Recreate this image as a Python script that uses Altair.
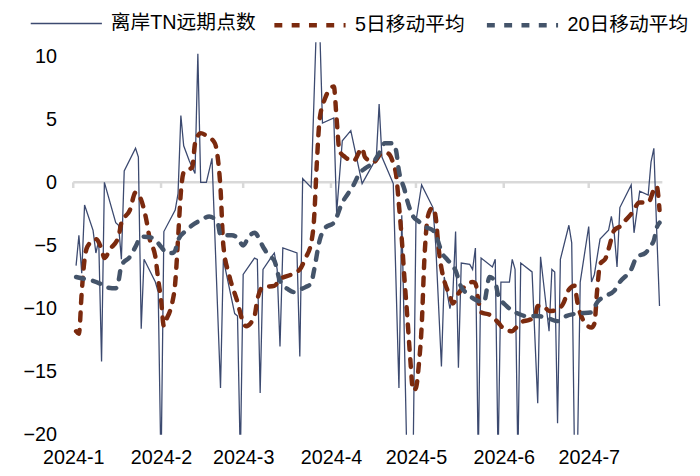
import altair as alt
import pandas as pd

RAW = "离岸TN远期点数"
MA5 = "5日移动平均"
MA20 = "20日移动平均"

raw_dates = [
    "2024-01-02", "2024-01-03", "2024-01-04", "2024-01-05", "2024-01-08", "2024-01-09",
    "2024-01-10", "2024-01-11", "2024-01-12", "2024-01-16", "2024-01-17", "2024-01-18",
    "2024-01-19", "2024-01-23", "2024-01-24", "2024-01-25", "2024-01-26", "2024-01-30",
    "2024-01-31", "2024-02-01", "2024-02-02", "2024-02-06", "2024-02-07", "2024-02-08",
    "2024-02-09", "2024-02-11", "2024-02-13", "2024-02-14", "2024-02-15", "2024-02-17",
    "2024-02-19", "2024-02-22", "2024-02-23", "2024-02-27", "2024-02-28", "2024-02-29",
    "2024-03-01", "2024-03-05", "2024-03-06", "2024-03-07", "2024-03-08", "2024-03-11",
    "2024-03-12", "2024-03-13", "2024-03-14", "2024-03-15", "2024-03-20", "2024-03-21",
    "2024-03-22", "2024-03-25", "2024-03-27", "2024-03-28", "2024-03-29", "2024-04-02",
    "2024-04-03", "2024-04-05", "2024-04-08", "2024-04-10", "2024-04-12", "2024-04-17",
    "2024-04-18", "2024-04-19", "2024-04-23", "2024-04-25", "2024-04-26", "2024-04-28",
    "2024-04-29", "2024-04-30", "2024-05-01", "2024-05-03", "2024-05-07", "2024-05-08",
    "2024-05-10", "2024-05-11", "2024-05-13", "2024-05-14", "2024-05-15", "2024-05-16",
    "2024-05-17", "2024-05-20", "2024-05-21", "2024-05-22", "2024-05-23", "2024-05-24",
    "2024-05-28", "2024-05-29", "2024-05-30", "2024-05-31", "2024-06-03", "2024-06-04",
    "2024-06-05", "2024-06-06", "2024-06-07", "2024-06-11", "2024-06-13", "2024-06-14",
    "2024-06-17", "2024-06-18", "2024-06-19", "2024-06-20", "2024-06-21", "2024-06-24",
    "2024-06-25", "2024-06-26", "2024-06-27", "2024-06-28", "2024-07-01", "2024-07-02",
    "2024-07-03", "2024-07-05", "2024-07-08", "2024-07-09", "2024-07-10", "2024-07-11",
    "2024-07-12", "2024-07-16", "2024-07-17", "2024-07-19", "2024-07-22", "2024-07-23",
    "2024-07-24", "2024-07-25", "2024-07-26",
]
raw_values = [
    -6.6, -4.2, -7.2, -1.8, -3.8, -5.6,
    -4.6, -14.2, 0.0, -3.2, -3.4, -6.1,
    0.9, 2.7, 2.0, -11.6, -6.1, -7.9,
    -8.7, -23.0, -3.9, -2.2, -0.9, 5.3,
    2.9, 1.7, 0.7, 10.2, 0.0, 0.0,
    1.9, -16.3, -6.1, -10.4, -10.6, -22.0,
    -7.3, -6.0, -6.1, -16.7, -6.9, -5.9,
    -5.6, -6.9, -13.0, -5.2, -5.6, -13.8,
    0.3, -0.4, 13.5, 12.5, 4.7, 5.1,
    -2.4, 3.3, 4.1, 2.0, -0.1, 1.9,
    6.2, 2.0, -0.1, -16.3, -2.6, -24.0,
    -26.0, -22.0, -3.1, -0.2, -2.0, -5.0,
    -14.6, -7.5, -10.0, -9.0, -3.9, -14.7,
    -6.4, -6.5, -6.9, -5.2, -22.0, -6.0,
    -6.7, -6.1, -22.0, -7.9, -7.9, -6.1,
    -6.9, -22.0, -6.4, -7.1, -17.5, -5.9,
    -11.8, -6.9, -7.1, -19.1, -6.1, -3.4,
    -4.8, -22.0, -22.0, -7.9, -3.5, -7.9,
    -7.3, -4.5, -3.8, -2.7, -4.0, -6.7,
    -2.0, -0.2, -4.0, -0.7, -1.0, 1.6,
    2.7, -3.8, -9.8,
]

ma5_dates = [
    "2024-01-02", "2024-01-03", "2024-01-04", "2024-01-05", "2024-01-06", "2024-01-09",
    "2024-01-11", "2024-01-12", "2024-01-14", "2024-01-17", "2024-01-18", "2024-01-21",
    "2024-01-23", "2024-01-25", "2024-01-27", "2024-01-28", "2024-01-30", "2024-01-31",
    "2024-02-01", "2024-02-02", "2024-02-03", "2024-02-04", "2024-02-05", "2024-02-06",
    "2024-02-07", "2024-02-08", "2024-02-09", "2024-02-12", "2024-02-13", "2024-02-14",
    "2024-02-15", "2024-02-17", "2024-02-20", "2024-02-21", "2024-02-22", "2024-02-23",
    "2024-02-25", "2024-02-28", "2024-03-01", "2024-03-02", "2024-03-05", "2024-03-06",
    "2024-03-08", "2024-03-12", "2024-03-14", "2024-03-18", "2024-03-21", "2024-03-23",
    "2024-03-25", "2024-03-26", "2024-03-27", "2024-03-28", "2024-03-30", "2024-04-02",
    "2024-04-03", "2024-04-04", "2024-04-06", "2024-04-09", "2024-04-12", "2024-04-13",
    "2024-04-16", "2024-04-19", "2024-04-21", "2024-04-23", "2024-04-24", "2024-04-25",
    "2024-04-26", "2024-04-27", "2024-04-28", "2024-04-29", "2024-04-30", "2024-05-01",
    "2024-05-02", "2024-05-03", "2024-05-04", "2024-05-05", "2024-05-06", "2024-05-07",
    "2024-05-08", "2024-05-09", "2024-05-10", "2024-05-11", "2024-05-13", "2024-05-14",
    "2024-05-16", "2024-05-18", "2024-05-21", "2024-05-22", "2024-05-23", "2024-05-24",
    "2024-05-27", "2024-05-30", "2024-06-01", "2024-06-04", "2024-06-05", "2024-06-07",
    "2024-06-10", "2024-06-12", "2024-06-13", "2024-06-15", "2024-06-17", "2024-06-20",
    "2024-06-22", "2024-06-24", "2024-06-26", "2024-06-27", "2024-06-29", "2024-07-02",
    "2024-07-03", "2024-07-04", "2024-07-05", "2024-07-07", "2024-07-08", "2024-07-10",
    "2024-07-12", "2024-07-14", "2024-07-16", "2024-07-19", "2024-07-22", "2024-07-24",
    "2024-07-25", "2024-07-26",
]
ma5_values = [
    -11.8, -12.0, -8.7, -6.1, -5.1, -4.5,
    -5.3, -6.0, -5.3, -4.3, -3.2, -2.2,
    -0.8, -1.4, -3.2, -4.5, -5.9, -7.7,
    -9.3, -11.4, -10.8, -10.3, -9.5, -8.0,
    -4.5, -0.8, 0.8, 1.2, 3.1, 3.7,
    3.9, 3.7, 3.1, 2.0, -0.5, -5.0,
    -7.3, -9.5, -11.1, -11.4, -10.6, -9.3,
    -8.3, -8.2, -7.7, -7.3, -6.9, -6.0,
    -4.8, -3.0, 1.5, 5.0, 6.7, 7.6,
    5.0, 2.5, 2.0, 1.7, 2.7, 2.0,
    1.6, 2.3, 2.3, 1.5, 0.6, -1.8,
    -4.5, -7.8, -10.8, -14.0, -16.5, -16.3,
    -14.5, -11.5, -6.0, -3.0, -2.2, -2.0,
    -2.8, -5.2, -6.8, -7.8, -9.0, -9.6,
    -8.8, -8.3, -7.9, -8.0, -9.3, -10.3,
    -10.5, -11.1, -11.6, -11.8, -11.6, -11.1,
    -10.9, -10.7, -9.8, -9.8, -10.2, -10.1,
    -9.6, -8.5, -8.2, -9.5, -10.9, -11.5,
    -11.2, -8.5, -6.5, -6.0, -5.3, -3.8,
    -3.5, -3.0, -2.5, -1.6, -1.6, -0.6,
    -0.3, -2.2,
]

ma20_dates = [
    "2024-01-02", "2024-01-04", "2024-01-11", "2024-01-12", "2024-01-16", "2024-01-17",
    "2024-01-18", "2024-01-21", "2024-01-23", "2024-01-25", "2024-01-29", "2024-02-01",
    "2024-02-03", "2024-02-05", "2024-02-06", "2024-02-07", "2024-02-10", "2024-02-12",
    "2024-02-15", "2024-02-18", "2024-02-21", "2024-02-22", "2024-02-26", "2024-02-28",
    "2024-03-01", "2024-03-03", "2024-03-05", "2024-03-08", "2024-03-10", "2024-03-12",
    "2024-03-14", "2024-03-17", "2024-03-19", "2024-03-21", "2024-03-23", "2024-03-25",
    "2024-03-26", "2024-03-28", "2024-03-30", "2024-04-02", "2024-04-05", "2024-04-07",
    "2024-04-09", "2024-04-11", "2024-04-13", "2024-04-16", "2024-04-18", "2024-04-20",
    "2024-04-23", "2024-04-24", "2024-04-25", "2024-04-27", "2024-04-28", "2024-04-30",
    "2024-05-02", "2024-05-04", "2024-05-07", "2024-05-09", "2024-05-10", "2024-05-12",
    "2024-05-15", "2024-05-17", "2024-05-19", "2024-05-22", "2024-05-25", "2024-05-27",
    "2024-05-29", "2024-05-30", "2024-06-02", "2024-06-06", "2024-06-09", "2024-06-13",
    "2024-06-17", "2024-06-20", "2024-06-23", "2024-06-27", "2024-07-02", "2024-07-04",
    "2024-07-07", "2024-07-10", "2024-07-12", "2024-07-16", "2024-07-18", "2024-07-21",
    "2024-07-23", "2024-07-24", "2024-07-25", "2024-07-26",
]
ma20_values = [
    -7.5, -7.6, -8.1, -8.3, -8.4, -7.8,
    -6.6, -5.9, -5.1, -4.3, -4.4, -5.1,
    -5.6, -5.6, -5.4, -4.6, -3.8, -3.4,
    -3.0, -2.7, -3.2, -4.2, -4.2, -4.4,
    -5.0, -4.3, -4.0, -5.1, -5.8, -6.2,
    -7.8, -8.5, -8.7, -8.5, -8.3, -8.0,
    -7.0, -4.6, -3.6, -3.2, -1.6, -0.9,
    -0.2, 0.7, 1.1, 1.6, 2.3, 3.1,
    3.1, 2.5, 0.9, -0.6, -1.5, -2.7,
    -3.1, -3.5, -3.8, -4.8, -5.5, -6.1,
    -7.0, -8.3, -8.8, -9.3, -9.5, -7.5,
    -7.9, -8.9, -9.8, -10.4, -10.6, -10.6,
    -10.8, -11.0, -10.6, -10.4, -10.3, -9.5,
    -9.0, -8.6, -7.9, -6.9, -5.9, -5.6,
    -5.0, -4.6, -3.6, -3.2,
]

month_ticks = [
    "2024-01-01", "2024-02-01", "2024-03-01", "2024-04-01",
    "2024-05-01", "2024-06-01", "2024-07-01",
]
y_ticks = [-20, -15, -10, -5, 0, 5, 10]

RAW_COLOR = "#3c4a70"
MA5_COLOR = "#7b2a0e"
MA20_COLOR = "#44546a"
FONT = "Liberation Sans, Arial, Noto Sans CJK SC"

raw_df = pd.DataFrame({"date": raw_dates, "value": raw_values, "series": RAW})
ma_df = pd.concat([
    pd.DataFrame({"date": ma5_dates, "value": ma5_values, "series": MA5}),
    pd.DataFrame({"date": ma20_dates, "value": ma20_values, "series": MA20}),
])
tick_df = pd.DataFrame({"date": month_ticks})

x_enc = alt.X(
    "date:T",
    title=None,
    scale=alt.Scale(
        type="utc",
        domain=[
            alt.DateTime(year=2024, month=1, date=1, utc=True),
            alt.DateTime(year=2024, month=7, date=27, utc=True),
        ],
    ),
    axis=alt.Axis(
        values=[alt.DateTime(year=2024, month=m, date=1, utc=True) for m in range(1, 8)],
        labelExpr="utcyear(datum.value) + '-' + (utcmonth(datum.value) + 1)",
        grid=False, ticks=False, domain=False,
        labelFontSize=20, labelFont=FONT, labelColor="#000000",
        labelPadding=13, labelFlush=False, labelOverlap=False, labelBound=False,
    ),
)
y_enc = alt.Y(
    "value:Q",
    title=None,
    scale=alt.Scale(domain=[-20, 11.1], nice=False, zero=False),
    axis=alt.Axis(
        values=y_ticks, grid=False, ticks=False, domain=False,
        labelFontSize=20, labelFont=FONT, labelColor="#000000", labelPadding=17,
    ),
)

# zero line with month ticks (category axis crossing at 0)
zero_line = alt.Chart(pd.DataFrame({"value": [0]})).mark_rule(
    color="#d9d9d9", strokeWidth=2.5
).encode(y=y_enc)

month_marks = alt.Chart(tick_df).mark_rule(color="#d9d9d9", strokeWidth=2.5).encode(
    x=x_enc, y=alt.datum(0), y2=alt.datum(-0.45)
)

raw_line = alt.Chart(raw_df).mark_line(strokeWidth=1.3, clip=True).encode(
    x=x_enc,
    y=y_enc,
    color=alt.Color(
        "series:N",
        scale=alt.Scale(domain=[RAW], range=[RAW_COLOR]),
        legend=alt.Legend(
            title=None, orient="none", direction="horizontal",
            legendX=-44, legendY=-56, padding=0,
            symbolType="stroke", symbolSize=5184, symbolStrokeWidth=1.3,
            labelFontSize=20, labelFont=FONT, labelColor="#000000", labelOffset=8,
        ),
    ),
)

ma_lines = alt.Chart(ma_df).mark_line(
    strokeWidth=4.5, strokeDash=[8, 9.5], strokeCap="round",
    interpolate="monotone", clip=True,
).encode(
    x=x_enc,
    y=y_enc,
    color=alt.Color(
        "series:N",
        scale=alt.Scale(domain=[MA5, MA20], range=[MA5_COLOR, MA20_COLOR]),
        legend=alt.Legend(
            title=None, orient="none", direction="horizontal",
            legendX=201, legendY=-56, padding=0, columnPadding=12,
            symbolType="stroke", symbolSize=5184, symbolStrokeWidth=4.5,
            symbolDash=[8, 9.5],
            labelFontSize=20, labelFont=FONT, labelColor="#000000", labelOffset=7,
        ),
    ),
)

chart = (
    alt.layer(zero_line, month_marks, raw_line, ma_lines)
    .resolve_scale(color="independent")
    .properties(
        width=596,
        height=397,
        autosize=alt.AutoSizeParams(type="none"),
        padding={"left": 66, "top": 32, "right": 30, "bottom": 32},
        background="white",
    )
    .configure_view(stroke=None)
)

chart.save("out.html", embed_options={"renderer": "svg", "actions": False})
